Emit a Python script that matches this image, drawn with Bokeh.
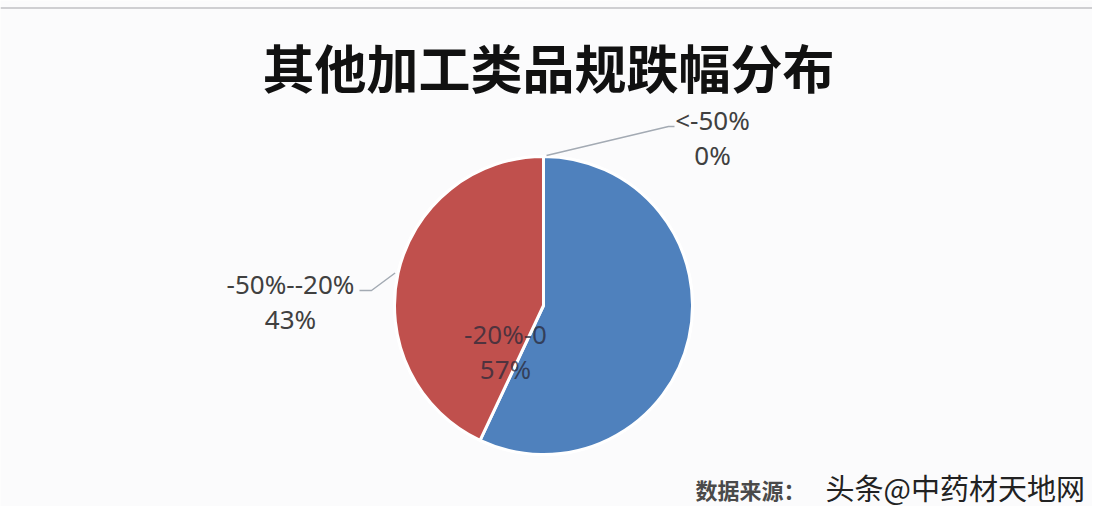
import math
from bokeh.plotting import figure
from bokeh.models import Range1d, ColumnDataSource
from bokeh.core.properties import value
from bokeh.embed import file_html
from bokeh.resources import INLINE

# ---- data (clockwise from 12 o'clock) ----
categories = ["<-50%", "-20%-0", "-50%--20%"]
shares = [0, 57, 43]
colors = ["#4f81bd", "#4f81bd", "#c0504d"]
title_text = "其他加工类品规跌幅分布"
source_label = "数据来源："
source_name = "头条@中药材天地网"

W, H = 1092, 506


def X(sx):
    return sx


def Y(sy):
    return H - sy


p = figure(width=W, height=H, output_backend="svg", toolbar_location=None,
           x_range=Range1d(0, W), y_range=Range1d(0, H), min_border=0)
p.axis.visible = False
p.grid.visible = False
p.outline_line_color = None
p.background_fill_color = "#fbfbfc"
p.border_fill_color = "#fbfbfc"

# top rule
p.line(x=[0, W], y=[Y(7.5), Y(7.5)], line_color="#cfcfd2", line_width=2)

cx, cy, r = X(543), Y(305), 149
total = sum(shares)
starts, ends, cum = [], [], 0.0
for s in shares:
    a0 = math.pi / 2 - 2 * math.pi * cum / total
    cum += s
    a1 = math.pi / 2 - 2 * math.pi * cum / total
    starts.append(a0)
    ends.append(a1)

src = ColumnDataSource(dict(x=[cx] * 3, y=[cy] * 3, start=starts, end=ends,
                            color=colors, cat=categories))
p.wedge(x="x", y="y", radius=r, start_angle="start", end_angle="end",
        direction="clock", fill_color="color", line_color="white",
        line_width=3, source=src)

# title
p.text(x=[X(548)], y=[Y(66)], text=[title_text], text_align="center",
       text_baseline="middle", text_font=value("Noto Sans CJK SC"),
       text_font_size="52px", text_font_style="bold", text_color="#111111")

lab_font = value("Noto Sans")
lab_color = "#404040"
lead_color = "#a3aab3"
lab_size = "26px"

# label for "<-50%" (top)
ang0 = starts[0]
ex, ey = cx + r * math.cos(ang0), cy + r * math.sin(ang0)
p.line(x=[ex + 3, X(668), X(674)], y=[ey + 1, Y(126), Y(126)],
       line_color=lead_color, line_width=1.5)
p.text(x=[X(712), X(712)], y=[Y(119), Y(154)],
       text=[categories[0], f"{shares[0]}%"], text_align="center",
       text_baseline="middle", text_font=lab_font, text_font_size=lab_size,
       text_color=lab_color)

# label for red slice (left)
mid = (starts[2] + ends[2]) / 2
ex, ey = cx + r * math.cos(mid), cy + r * math.sin(mid)
p.line(x=[ex - 3, X(371), X(359)], y=[ey, Y(290), Y(290)],
       line_color=lead_color, line_width=1.5)
p.text(x=[X(290), X(290)], y=[Y(283), Y(318)],
       text=[categories[2], f"{shares[2]}%"], text_align="center",
       text_baseline="middle", text_font=lab_font, text_font_size=lab_size,
       text_color=lab_color)

# inside label for blue slice
p.text(x=[X(505), X(505)], y=[Y(333), Y(368)],
       text=[categories[1], f"{shares[1]}%"], text_align="center",
       text_baseline="middle", text_font=lab_font, text_font_size=lab_size,
       text_color="#2a2a3a", text_alpha=0.75)

# footer
p.text(x=[X(695)], y=[Y(488)], text=[source_label], text_align="left",
       text_baseline="middle", text_font=value("Noto Sans CJK SC"),
       text_font_size="22px", text_font_style="bold", text_color="#4a4a4a")
p.text(x=[X(825)], y=[Y(486)], text=[source_name], text_align="left",
       text_baseline="middle", text_font=value("Noto Sans CJK SC"),
       text_font_size="29px", text_color="#222222")

open("out.html", "w").write(file_html(p, INLINE))
